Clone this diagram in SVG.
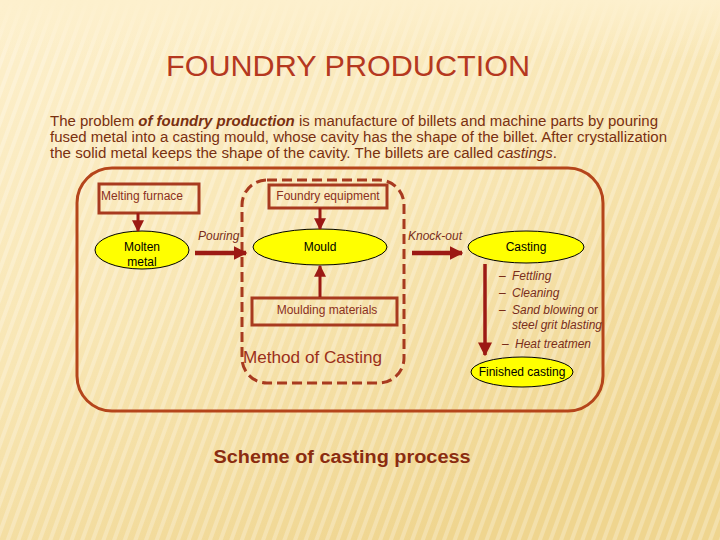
<svg xmlns="http://www.w3.org/2000/svg" width="720" height="540" viewBox="0 0 720 540">
<defs>
<linearGradient id="bg" x1="0" y1="0" x2="0.6" y2="1">
<stop offset="0" stop-color="#fdf0cd"/>
<stop offset="0.5" stop-color="#f8e6b4"/>
<stop offset="1" stop-color="#efd58f"/>
</linearGradient>
<linearGradient id="topfade" x1="0" y1="0" x2="0" y2="1">
<stop offset="0" stop-color="#fdf0cd" stop-opacity="1"/>
<stop offset="1" stop-color="#fdf0cd" stop-opacity="0"/>
</linearGradient>
<pattern id="stripes" width="10" height="10" patternUnits="userSpaceOnUse" patternTransform="rotate(20)">
<rect width="4" height="10" fill="#ffffff" opacity="0.25"/>
</pattern>
<marker id="ah" viewBox="0 0 10 10" refX="9" refY="5" markerWidth="4" markerHeight="4" orient="auto" markerUnits="strokeWidth">
<path d="M0,0 L10,5 L0,10 z" fill="#9c1a14"/>
</marker>
<marker id="ah2" viewBox="0 0 10 10" refX="9" refY="5" markerWidth="3" markerHeight="3" orient="auto" markerUnits="strokeWidth">
<path d="M0,0 L10,5 L0,10 z" fill="#9c1a14"/>
</marker>
</defs>
<style>
.box{fill:none;stroke:#a83a1f;stroke-width:3}
.ell{fill:#ffff00;stroke:#000;stroke-width:1}
.t{font-family:"Liberation Sans",Arial,sans-serif}
.bt{font-size:12px;fill:#8b3020}
.et{font-size:12px;fill:#000}
.it{font-size:12px;fill:#7a2e1a;font-style:italic}
.arr{stroke:#9c1a14;fill:none}
</style>
<rect width="720" height="540" fill="url(#bg)"/>
<rect width="720" height="540" fill="url(#stripes)"/>
<rect width="720" height="60" fill="url(#topfade)"/>

<text class="t" x="348" y="76" text-anchor="middle" font-size="30" fill="#b5381f" textLength="364" lengthAdjust="spacingAndGlyphs">FOUNDRY PRODUCTION</text>

<g class="t" font-size="14" fill="#7a3010">
<text x="50" y="126" textLength="608" lengthAdjust="spacingAndGlyphs">The problem <tspan font-weight="bold" font-style="italic">of foundry production</tspan> is manufacture of billets and machine parts by pouring</text>
<text x="50" y="142" textLength="617" lengthAdjust="spacingAndGlyphs">fused metal into a casting mould, whose cavity has the shape of the billet. After crystallization</text>
<text x="50" y="158" textLength="507" lengthAdjust="spacingAndGlyphs">the solid metal keeps the shape of the cavity. The billets are called <tspan font-style="italic">castings</tspan>.</text>
</g>

<g id="frame">
<rect x="77" y="168" width="526" height="243" rx="35" ry="35" fill="none" stroke="#b5451b" stroke-width="3"/>
</g>
<g id="method">
<rect x="242" y="180" width="162" height="203" rx="25" ry="25" fill="none" stroke="#a83a1f" stroke-width="3" stroke-dasharray="10,5"/>
<text class="t" x="243" y="363" font-size="16" fill="#9b2f1a" textLength="139" lengthAdjust="spacingAndGlyphs">Method of Casting</text>
</g>

<g id="melting-furnace">
<rect class="box" x="99" y="184" width="100" height="29"/>
<text class="t bt" x="101" y="200">Melting furnace</text>
</g>
<g id="molten-metal">
<ellipse class="ell" cx="142" cy="250" rx="47" ry="19"/>
<text class="t et" x="142" y="251" text-anchor="middle">Molten</text>
<text class="t et" x="142" y="266" text-anchor="middle">metal</text>
</g>
<g id="foundry-equipment">
<rect class="box" x="269" y="185" width="118" height="23"/>
<text class="t bt" x="328" y="200" text-anchor="middle">Foundry equipment</text>
</g>
<g id="mould">
<ellipse class="ell" cx="320" cy="247" rx="67" ry="18"/>
<text class="t et" x="320" y="251" text-anchor="middle">Mould</text>
</g>
<g id="moulding-materials">
<rect class="box" x="252" y="298" width="145" height="27"/>
<text class="t bt" x="327" y="314" text-anchor="middle">Moulding materials</text>
</g>
<g id="casting">
<ellipse class="ell" cx="526" cy="247" rx="58" ry="16"/>
<text class="t et" x="526" y="251" text-anchor="middle">Casting</text>
</g>
<g id="finished-casting">
<ellipse class="ell" cx="522" cy="372" rx="51" ry="15"/>
<text class="t et" x="522" y="376" text-anchor="middle">Finished casting</text>
</g>

<g id="connectors">
<line class="arr" x1="138" y1="213" x2="138" y2="231" stroke-width="3" marker-end="url(#ah)"/>
<line class="arr" x1="195" y1="253" x2="246" y2="253" stroke-width="4.5" marker-end="url(#ah2)"/>
<line class="arr" x1="320" y1="208" x2="320" y2="229" stroke-width="3" marker-end="url(#ah)"/>
<line class="arr" x1="320" y1="297" x2="320" y2="266" stroke-width="3" marker-end="url(#ah)"/>
<line class="arr" x1="412" y1="253" x2="462" y2="253" stroke-width="4.5" marker-end="url(#ah2)"/>
<line class="arr" x1="485" y1="264" x2="485" y2="355" stroke-width="3.5" marker-end="url(#ah)"/>
</g>

<g id="labels" class="t">
<text class="it" x="198" y="240">Pouring</text>
<text class="it" x="408" y="240">Knock-out</text>
<text class="it" x="499" y="280">–<tspan x="512">Fettling</tspan></text>
<text class="it" x="499" y="297">–<tspan x="512">Cleaning</tspan></text>
<text class="it" x="499" y="314">–<tspan x="512">Sand blowing </tspan><tspan font-style="normal">or</tspan></text>
<text class="it" x="512" y="329">steel grit blasting</text>
<text class="it" x="502" y="348">–<tspan x="515">Heat treatmen</tspan></text>
</g>

<text class="t" x="342" y="463" text-anchor="middle" font-size="18" font-weight="bold" fill="#8b2c10" textLength="257" lengthAdjust="spacingAndGlyphs">Scheme of casting process</text>
</svg>
